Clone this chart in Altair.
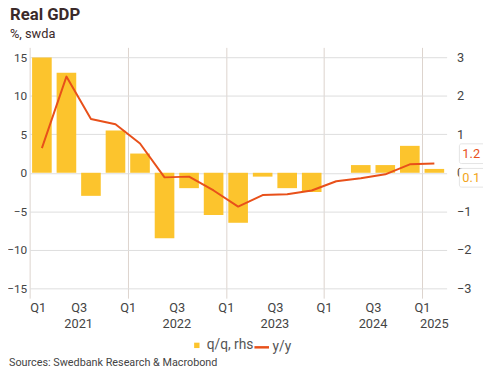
import altair as alt
import pandas as pd

# ---- data ----
quarters = ["2021Q1", "2021Q2", "2021Q3", "2021Q4",
            "2022Q1", "2022Q2", "2022Q3", "2022Q4",
            "2023Q1", "2023Q2", "2023Q3", "2023Q4",
            "2024Q1", "2024Q2", "2024Q3", "2024Q4",
            "2025Q1"]
qq = [3.0, 2.6, -0.6, 1.1, 0.5, -1.7, -0.4, -1.1, -1.3, -0.1, -0.4, -0.5,
      0.0, 0.2, 0.2, 0.7, 0.1]          # q/q, rhs (bars)
yy = [3.2, 12.5, 7.0, 6.3, 3.8, -0.6, -0.5, -2.3, -4.4, -2.9, -2.8, -2.3,
      -1.1, -0.7, -0.2, 1.1, 1.2]        # y/y, lhs (line)
left_ticks = [-15, -10, -5, 0, 5, 10, 15]
right_ticks = [-3, -2, -1, 0, 1, 2, 3]

FONT = "Roboto"
BAR = "#FCC42D"
LINE = "#E8501A"
TXT = "#444444"

n = len(quarters)
df = pd.DataFrame({"q": quarters, "i": list(range(n)), "qq": qq, "yy": yy})

# year labels: centred on the span of each year's quarters
years = sorted(set(q[:4] for q in quarters))
ydf = pd.DataFrame({
    "year": years,
    "pos": [
        (min(i for i, q in enumerate(quarters) if q[:4] == y)
         + max(i for i, q in enumerate(quarters) if q[:4] == y) + 1) / 2
        for y in years
    ],
})
last = df.iloc[[-1]]

xscale = alt.Scale(domain=[0, n], nice=False, zero=False)
lscale = alt.Scale(domain=[-16.3, 16.3], nice=False)
rscale = alt.Scale(domain=[-3.26, 3.26], nice=False)

xaxis = alt.Axis(
    values=list(range(0, n, 2)),
    labelExpr="datum.value % 4 === 0 ? 'Q1' : 'Q3'",
    title=None, domain=False, ticks=False, labelPadding=4,
    labelFont=FONT, labelFontSize=13, labelColor=TXT,
    grid=True, gridColor="#dcd3cd",
    gridOpacity={"condition": {"test": "datum.value % 4 === 0", "value": 1}, "value": 0},
)
raxis = alt.Axis(
    orient="right", values=right_ticks, title=None, grid=False,
    domain=False, ticks=False, labelPadding=10,
    labelFont=FONT, labelFontSize=13, labelColor=TXT)
laxis = alt.Axis(
    orient="left", values=left_ticks, title=None, grid=True, gridColor="#dddddd",
    domain=False, ticks=False, labelPadding=3,
    labelFont=FONT, labelFontSize=12, labelColor=TXT)

bars = alt.Chart(df).transform_calculate(
    x0="datum.i + 0.1", x1="datum.i + 0.9", series="'q/q, rhs'"
).mark_bar(color=BAR).encode(
    x=alt.X("x0:Q", scale=xscale, axis=xaxis),
    x2="x1:Q",
    y=alt.Y("qq:Q", scale=rscale, axis=raxis),
    y2=alt.datum(0),
    color=alt.Color("series:N", scale=alt.Scale(domain=["q/q, rhs"], range=[BAR]),
                    legend=alt.Legend(orient="none", legendX=163, legendY=296,
                                      title=None, symbolType="square", symbolSize=30,
                                      labelOffset=3,
                                      labelFont=FONT, labelFontSize=14, labelColor="#555555")),
)

line = alt.Chart(df).transform_calculate(
    xc="datum.i + 0.5", series2="'y/y'"
).mark_line(strokeWidth=2, strokeJoin="round").encode(
    x=alt.X("xc:Q", scale=xscale, axis=xaxis),
    y=alt.Y("yy:Q", scale=lscale, axis=laxis),
    stroke=alt.Stroke("series2:N", scale=alt.Scale(domain=["y/y"], range=[LINE]),
                      legend=alt.Legend(orient="none", legendX=227, legendY=296,
                                        title=None, symbolType="stroke", symbolSize=220,
                                        symbolStrokeWidth=2.5, labelOffset=2,
                                        labelFont=FONT, labelFontSize=14, labelColor="#555555")),
)

line_box = alt.Chart(last).mark_rect(
    width=32, height=20, fill="white", stroke="#e3e3e3", strokeWidth=1, yOffset=-10, cornerRadius=2
).encode(x=alt.value(453), y=alt.Y("yy:Q", scale=lscale, axis=None))

line_label = alt.Chart(last).mark_text(
    align="left", baseline="middle", font=FONT, fontSize=13, color=LINE, dy=-10
).encode(x=alt.value(440), y=alt.Y("yy:Q", scale=lscale, axis=None),
         text=alt.Text("yy:Q", format=".1f"))

bar_box = alt.Chart(last).mark_rect(
    width=32, height=19, fill="white", stroke="#e3e3e3", strokeWidth=1, yOffset=9, cornerRadius=2
).encode(x=alt.value(453), y=alt.Y("qq:Q", scale=rscale, axis=None))

bar_label = alt.Chart(last).mark_text(
    align="left", baseline="middle", font=FONT, fontSize=13, color="#F2A51A", dy=9
).encode(x=alt.value(440), y=alt.Y("qq:Q", scale=rscale, axis=None),
         text=alt.Text("qq:Q", format=".1f"))

year_text = alt.Chart(ydf).mark_text(
    baseline="middle", align="center", font=FONT, fontSize=13, color=TXT
).encode(x=alt.X("pos:Q", scale=xscale, axis=xaxis), y=alt.value(281), text="year:N")

source = alt.Chart(pd.DataFrame({"t": ["Sources: Swedbank Research & Macrobond"]})).mark_text(
    align="left", baseline="middle", font=FONT, fontSize=11, color=TXT
).encode(x=alt.value(-21), y=alt.value(321), text="t:N")

chart = alt.layer(bars, line, line_box, line_label, bar_box, bar_label, year_text, source).resolve_scale(
    y="independent", color="independent", stroke="independent"
).properties(
    width=424, height=255,
    autosize=alt.AutoSizeParams(type="none"),
    padding={"left": 22, "top": 37, "right": 37, "bottom": 70},
    title=alt.TitleParams(
        "Real GDP", subtitle="%, swda", anchor="start", frame="group", dx=-20, offset=6,
        font=FONT, fontSize=17, fontWeight="bold", color="#3b2a2a",
        subtitleFont=FONT, subtitleFontSize=13, subtitleColor="#3b2a2a", subtitlePadding=4,
    ),
).configure_view(stroke=None)

chart.save("out.html", embed_options={"renderer": "svg", "actions": False})
